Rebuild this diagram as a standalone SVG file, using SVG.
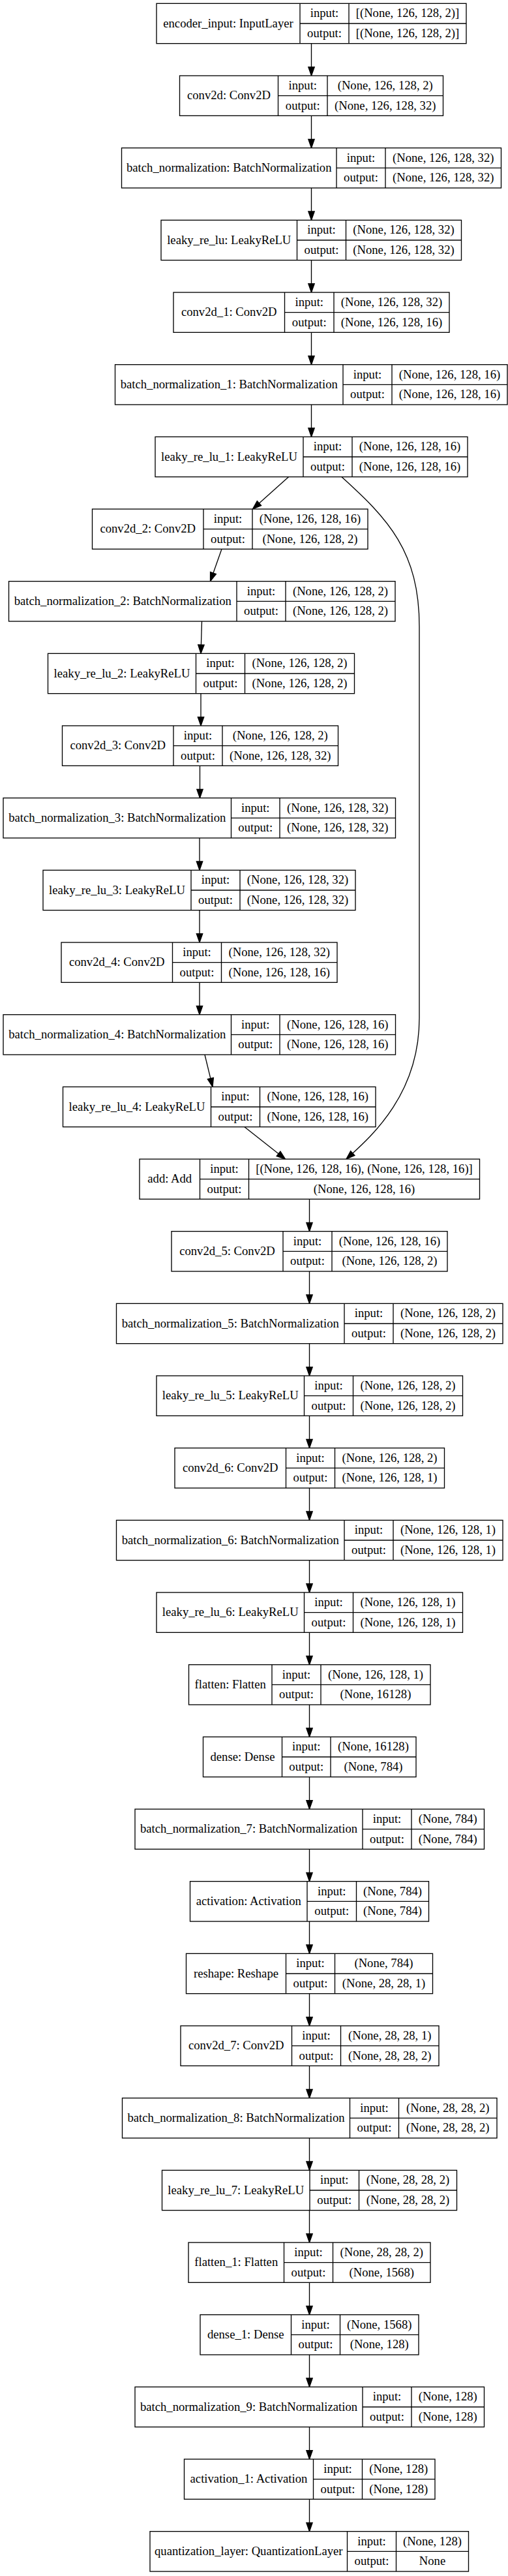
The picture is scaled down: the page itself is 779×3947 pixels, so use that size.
<svg xmlns="http://www.w3.org/2000/svg" width="779" height="3947" viewBox="0 0 779 3947">
<style>
.n rect{fill:#fff;stroke:#000;stroke-width:1.33}
.n line{stroke:#000;stroke-width:1.33}
text{font-family:"Liberation Serif",Times,serif;font-size:18.67px;text-anchor:middle;fill:#000}
.e path{fill:none;stroke:#000;stroke-width:1.33;marker-end:url(#arr)}
</style>
<defs>
<marker id="arr" markerUnits="userSpaceOnUse" markerWidth="14" markerHeight="10" refX="13.33" refY="4.67" orient="auto" viewBox="0 0 14 10" overflow="visible">
<path d="M0,0 L13.33,4.67 L0,9.33 z" fill="#000" stroke="#000" stroke-width="1.33"/>
</marker>
</defs>
<rect x="0" y="0" width="779" height="3947" fill="#fff"/>
<g id="edges" class="e">
<path d="M477.5,66.67 L477.5,116"/>
<path d="M477.5,177.33 L477.5,226.67"/>
<path d="M477.5,288 L477.5,337.33"/>
<path d="M477.5,398.67 L477.5,448"/>
<path d="M477.5,509.33 L477.5,558.67"/>
<path d="M477.5,620 L477.5,669.33"/>
<path d="M442.5,730.67 L387.5,780"/>
<path d="M524,730.67 C595,795 643,845 643,960 L643,1560 C643,1680 565,1745 531,1776"/>
<path d="M340,841.33 L322.5,890.67"/>
<path d="M309.5,952 L308,1001.33"/>
<path d="M308,1062.67 L308,1112"/>
<path d="M306.5,1173.33 L306.5,1222.67"/>
<path d="M306,1284 L306,1333.33"/>
<path d="M306,1394.67 L306,1444"/>
<path d="M306,1505.33 L306,1554.67"/>
<path d="M314,1616 L326,1665.33"/>
<path d="M375,1726.67 L437.5,1776"/>
<path d="M474.5,1837.33 L474.5,1886.67"/>
<path d="M474.5,1948 L474.5,1997.33"/>
<path d="M474.5,2058.67 L474.5,2108"/>
<path d="M474.5,2169.33 L474.5,2218.67"/>
<path d="M474.5,2280 L474.5,2329.33"/>
<path d="M474.5,2390.67 L474.5,2440"/>
<path d="M474.5,2501.33 L474.5,2550.67"/>
<path d="M474.5,2612 L474.5,2661.33"/>
<path d="M474.5,2722.67 L474.5,2772"/>
<path d="M474.5,2833.33 L474.5,2882.67"/>
<path d="M474.5,2944 L474.5,2993.33"/>
<path d="M474.5,3054.67 L474.5,3104"/>
<path d="M474.5,3165.33 L474.5,3214.67"/>
<path d="M474.5,3276 L474.5,3325.33"/>
<path d="M474.5,3386.67 L474.5,3436"/>
<path d="M474.5,3497.33 L474.5,3546.67"/>
<path d="M474.5,3608 L474.5,3657.33"/>
<path d="M474.5,3718.67 L474.5,3768"/>
<path d="M474.5,3829.33 L474.5,3878.67"/>
</g>

<g id="encoder_input" class="n" transform="translate(0,5.33)">
<rect x="240" y="0" width="475" height="61.33"/>
<line x1="460" y1="0" x2="460" y2="61.33"/><line x1="535" y1="0" x2="535" y2="61.33"/><line x1="460" y1="30.67" x2="715" y2="30.67"/>
<text x="350" y="36.3">encoder_input: InputLayer</text>
<text x="497.5" y="21">input:</text><text x="497.5" y="51.7">output:</text>
<text x="625" y="21">[(None, 126, 128, 2)]</text><text x="625" y="51.7">[(None, 126, 128, 2)]</text>
</g>

<g id="conv2d" class="n" transform="translate(0,116)">
<rect x="275.5" y="0" width="404" height="61.33"/>
<line x1="426.5" y1="0" x2="426.5" y2="61.33"/><line x1="502" y1="0" x2="502" y2="61.33"/><line x1="426.5" y1="30.67" x2="679.5" y2="30.67"/>
<text x="351" y="36.3">conv2d: Conv2D</text>
<text x="464.25" y="21">input:</text><text x="464.25" y="51.7">output:</text>
<text x="590.75" y="21">(None, 126, 128, 2)</text><text x="590.75" y="51.7">(None, 126, 128, 32)</text>
</g>

<g id="batch_normalization" class="n" transform="translate(0,226.67)">
<rect x="186.5" y="0" width="582" height="61.33"/>
<line x1="516" y1="0" x2="516" y2="61.33"/><line x1="591" y1="0" x2="591" y2="61.33"/><line x1="516" y1="30.67" x2="768.5" y2="30.67"/>
<text x="351.25" y="36.3">batch_normalization: BatchNormalization</text>
<text x="553.5" y="21">input:</text><text x="553.5" y="51.7">output:</text>
<text x="679.75" y="21">(None, 126, 128, 32)</text><text x="679.75" y="51.7">(None, 126, 128, 32)</text>
</g>

<g id="leaky_re_lu" class="n" transform="translate(0,337.33)">
<rect x="247" y="0" width="460.5" height="61.33"/>
<line x1="455.5" y1="0" x2="455.5" y2="61.33"/><line x1="530.5" y1="0" x2="530.5" y2="61.33"/><line x1="455.5" y1="30.67" x2="707.5" y2="30.67"/>
<text x="351.25" y="36.3">leaky_re_lu: LeakyReLU</text>
<text x="493" y="21">input:</text><text x="493" y="51.7">output:</text>
<text x="619" y="21">(None, 126, 128, 32)</text><text x="619" y="51.7">(None, 126, 128, 32)</text>
</g>

<g id="conv2d_1" class="n" transform="translate(0,448)">
<rect x="266" y="0" width="423" height="61.33"/>
<line x1="436.5" y1="0" x2="436.5" y2="61.33"/><line x1="512" y1="0" x2="512" y2="61.33"/><line x1="436.5" y1="30.67" x2="689" y2="30.67"/>
<text x="351.25" y="36.3">conv2d_1: Conv2D</text>
<text x="474.25" y="21">input:</text><text x="474.25" y="51.7">output:</text>
<text x="600.5" y="21">(None, 126, 128, 32)</text><text x="600.5" y="51.7">(None, 126, 128, 16)</text>
</g>

<g id="batch_normalization_1" class="n" transform="translate(0,558.67)">
<rect x="176.5" y="0" width="601.5" height="61.33"/>
<line x1="526" y1="0" x2="526" y2="61.33"/><line x1="601" y1="0" x2="601" y2="61.33"/><line x1="526" y1="30.67" x2="778" y2="30.67"/>
<text x="351.25" y="36.3">batch_normalization_1: BatchNormalization</text>
<text x="563.5" y="21">input:</text><text x="563.5" y="51.7">output:</text>
<text x="689.5" y="21">(None, 126, 128, 16)</text><text x="689.5" y="51.7">(None, 126, 128, 16)</text>
</g>

<g id="leaky_re_lu_1" class="n" transform="translate(0,669.33)">
<rect x="238" y="0" width="479" height="61.33"/>
<line x1="465" y1="0" x2="465" y2="61.33"/><line x1="540" y1="0" x2="540" y2="61.33"/><line x1="465" y1="30.67" x2="717" y2="30.67"/>
<text x="351.5" y="36.3">leaky_re_lu_1: LeakyReLU</text>
<text x="502.5" y="21">input:</text><text x="502.5" y="51.7">output:</text>
<text x="628.5" y="21">(None, 126, 128, 16)</text><text x="628.5" y="51.7">(None, 126, 128, 16)</text>
</g>

<g id="conv2d_2" class="n" transform="translate(0,780)">
<rect x="141.5" y="0" width="422.5" height="61.33"/>
<line x1="312" y1="0" x2="312" y2="61.33"/><line x1="387" y1="0" x2="387" y2="61.33"/><line x1="312" y1="30.67" x2="564" y2="30.67"/>
<text x="226.75" y="36.3">conv2d_2: Conv2D</text>
<text x="349.5" y="21">input:</text><text x="349.5" y="51.7">output:</text>
<text x="475.5" y="21">(None, 126, 128, 16)</text><text x="475.5" y="51.7">(None, 126, 128, 2)</text>
</g>

<g id="batch_normalization_2" class="n" transform="translate(0,890.67)">
<rect x="13.5" y="0" width="592.5" height="61.33"/>
<line x1="363" y1="0" x2="363" y2="61.33"/><line x1="438" y1="0" x2="438" y2="61.33"/><line x1="363" y1="30.67" x2="606" y2="30.67"/>
<text x="188.25" y="36.3">batch_normalization_2: BatchNormalization</text>
<text x="400.5" y="21">input:</text><text x="400.5" y="51.7">output:</text>
<text x="522" y="21">(None, 126, 128, 2)</text><text x="522" y="51.7">(None, 126, 128, 2)</text>
</g>

<g id="leaky_re_lu_2" class="n" transform="translate(0,1001.33)">
<rect x="73.5" y="0" width="470" height="61.33"/>
<line x1="300.5" y1="0" x2="300.5" y2="61.33"/><line x1="375.5" y1="0" x2="375.5" y2="61.33"/><line x1="300.5" y1="30.67" x2="543.5" y2="30.67"/>
<text x="187" y="36.3">leaky_re_lu_2: LeakyReLU</text>
<text x="338" y="21">input:</text><text x="338" y="51.7">output:</text>
<text x="459.5" y="21">(None, 126, 128, 2)</text><text x="459.5" y="51.7">(None, 126, 128, 2)</text>
</g>

<g id="conv2d_3" class="n" transform="translate(0,1112)">
<rect x="95.5" y="0" width="423" height="61.33"/>
<line x1="266" y1="0" x2="266" y2="61.33"/><line x1="341" y1="0" x2="341" y2="61.33"/><line x1="266" y1="30.67" x2="518.5" y2="30.67"/>
<text x="180.75" y="36.3">conv2d_3: Conv2D</text>
<text x="303.5" y="21">input:</text><text x="303.5" y="51.7">output:</text>
<text x="429.75" y="21">(None, 126, 128, 2)</text><text x="429.75" y="51.7">(None, 126, 128, 32)</text>
</g>

<g id="batch_normalization_3" class="n" transform="translate(0,1222.67)">
<rect x="5" y="0" width="601.5" height="61.33"/>
<line x1="354.5" y1="0" x2="354.5" y2="61.33"/><line x1="429" y1="0" x2="429" y2="61.33"/><line x1="354.5" y1="30.67" x2="606.5" y2="30.67"/>
<text x="179.75" y="36.3">batch_normalization_3: BatchNormalization</text>
<text x="391.75" y="21">input:</text><text x="391.75" y="51.7">output:</text>
<text x="517.75" y="21">(None, 126, 128, 32)</text><text x="517.75" y="51.7">(None, 126, 128, 32)</text>
</g>

<g id="leaky_re_lu_3" class="n" transform="translate(0,1333.33)">
<rect x="66" y="0" width="479" height="61.33"/>
<line x1="293" y1="0" x2="293" y2="61.33"/><line x1="368" y1="0" x2="368" y2="61.33"/><line x1="293" y1="30.67" x2="545" y2="30.67"/>
<text x="179.5" y="36.3">leaky_re_lu_3: LeakyReLU</text>
<text x="330.5" y="21">input:</text><text x="330.5" y="51.7">output:</text>
<text x="456.5" y="21">(None, 126, 128, 32)</text><text x="456.5" y="51.7">(None, 126, 128, 32)</text>
</g>

<g id="conv2d_4" class="n" transform="translate(0,1444)">
<rect x="94" y="0" width="423" height="61.33"/>
<line x1="264.5" y1="0" x2="264.5" y2="61.33"/><line x1="339.5" y1="0" x2="339.5" y2="61.33"/><line x1="264.5" y1="30.67" x2="517" y2="30.67"/>
<text x="179.25" y="36.3">conv2d_4: Conv2D</text>
<text x="302" y="21">input:</text><text x="302" y="51.7">output:</text>
<text x="428.25" y="21">(None, 126, 128, 32)</text><text x="428.25" y="51.7">(None, 126, 128, 16)</text>
</g>

<g id="batch_normalization_4" class="n" transform="translate(0,1554.67)">
<rect x="5" y="0" width="601.5" height="61.33"/>
<line x1="354.5" y1="0" x2="354.5" y2="61.33"/><line x1="429" y1="0" x2="429" y2="61.33"/><line x1="354.5" y1="30.67" x2="606.5" y2="30.67"/>
<text x="179.75" y="36.3">batch_normalization_4: BatchNormalization</text>
<text x="391.75" y="21">input:</text><text x="391.75" y="51.7">output:</text>
<text x="517.75" y="21">(None, 126, 128, 16)</text><text x="517.75" y="51.7">(None, 126, 128, 16)</text>
</g>

<g id="leaky_re_lu_4" class="n" transform="translate(0,1665.33)">
<rect x="96.5" y="0" width="479.5" height="61.33"/>
<line x1="323.5" y1="0" x2="323.5" y2="61.33"/><line x1="398.5" y1="0" x2="398.5" y2="61.33"/><line x1="323.5" y1="30.67" x2="576" y2="30.67"/>
<text x="210" y="36.3">leaky_re_lu_4: LeakyReLU</text>
<text x="361" y="21">input:</text><text x="361" y="51.7">output:</text>
<text x="487.25" y="21">(None, 126, 128, 16)</text><text x="487.25" y="51.7">(None, 126, 128, 16)</text>
</g>

<g id="add" class="n" transform="translate(0,1776)">
<rect x="214" y="0" width="521.5" height="61.33"/>
<line x1="306.5" y1="0" x2="306.5" y2="61.33"/><line x1="381.5" y1="0" x2="381.5" y2="61.33"/><line x1="306.5" y1="30.67" x2="735.5" y2="30.67"/>
<text x="260.25" y="36.3">add: Add</text>
<text x="344" y="21">input:</text><text x="344" y="51.7">output:</text>
<text x="558.5" y="21">[(None, 126, 128, 16), (None, 126, 128, 16)]</text><text x="558.5" y="51.7">(None, 126, 128, 16)</text>
</g>

<g id="conv2d_5" class="n" transform="translate(0,1886.67)">
<rect x="263" y="0" width="423" height="61.33"/>
<line x1="434" y1="0" x2="434" y2="61.33"/><line x1="509" y1="0" x2="509" y2="61.33"/><line x1="434" y1="30.67" x2="686" y2="30.67"/>
<text x="348.5" y="36.3">conv2d_5: Conv2D</text>
<text x="471.5" y="21">input:</text><text x="471.5" y="51.7">output:</text>
<text x="597.5" y="21">(None, 126, 128, 16)</text><text x="597.5" y="51.7">(None, 126, 128, 2)</text>
</g>

<g id="batch_normalization_5" class="n" transform="translate(0,1997.33)">
<rect x="178.5" y="0" width="592.5" height="61.33"/>
<line x1="528" y1="0" x2="528" y2="61.33"/><line x1="603" y1="0" x2="603" y2="61.33"/><line x1="528" y1="30.67" x2="771" y2="30.67"/>
<text x="353.25" y="36.3">batch_normalization_5: BatchNormalization</text>
<text x="565.5" y="21">input:</text><text x="565.5" y="51.7">output:</text>
<text x="687" y="21">(None, 126, 128, 2)</text><text x="687" y="51.7">(None, 126, 128, 2)</text>
</g>

<g id="leaky_re_lu_5" class="n" transform="translate(0,2108)">
<rect x="240" y="0" width="469.5" height="61.33"/>
<line x1="466.5" y1="0" x2="466.5" y2="61.33"/><line x1="541.5" y1="0" x2="541.5" y2="61.33"/><line x1="466.5" y1="30.67" x2="709.5" y2="30.67"/>
<text x="353.25" y="36.3">leaky_re_lu_5: LeakyReLU</text>
<text x="504" y="21">input:</text><text x="504" y="51.7">output:</text>
<text x="625.5" y="21">(None, 126, 128, 2)</text><text x="625.5" y="51.7">(None, 126, 128, 2)</text>
</g>

<g id="conv2d_6" class="n" transform="translate(0,2218.67)">
<rect x="268" y="0" width="413.5" height="61.33"/>
<line x1="438.5" y1="0" x2="438.5" y2="61.33"/><line x1="513.5" y1="0" x2="513.5" y2="61.33"/><line x1="438.5" y1="30.67" x2="681.5" y2="30.67"/>
<text x="353.25" y="36.3">conv2d_6: Conv2D</text>
<text x="476" y="21">input:</text><text x="476" y="51.7">output:</text>
<text x="597.5" y="21">(None, 126, 128, 2)</text><text x="597.5" y="51.7">(None, 126, 128, 1)</text>
</g>

<g id="batch_normalization_6" class="n" transform="translate(0,2329.33)">
<rect x="178.5" y="0" width="592.5" height="61.33"/>
<line x1="528" y1="0" x2="528" y2="61.33"/><line x1="603" y1="0" x2="603" y2="61.33"/><line x1="528" y1="30.67" x2="771" y2="30.67"/>
<text x="353.25" y="36.3">batch_normalization_6: BatchNormalization</text>
<text x="565.5" y="21">input:</text><text x="565.5" y="51.7">output:</text>
<text x="687" y="21">(None, 126, 128, 1)</text><text x="687" y="51.7">(None, 126, 128, 1)</text>
</g>

<g id="leaky_re_lu_6" class="n" transform="translate(0,2440)">
<rect x="240" y="0" width="469.5" height="61.33"/>
<line x1="466.5" y1="0" x2="466.5" y2="61.33"/><line x1="541.5" y1="0" x2="541.5" y2="61.33"/><line x1="466.5" y1="30.67" x2="709.5" y2="30.67"/>
<text x="353.25" y="36.3">leaky_re_lu_6: LeakyReLU</text>
<text x="504" y="21">input:</text><text x="504" y="51.7">output:</text>
<text x="625.5" y="21">(None, 126, 128, 1)</text><text x="625.5" y="51.7">(None, 126, 128, 1)</text>
</g>

<g id="flatten" class="n" transform="translate(0,2550.67)">
<rect x="289.5" y="0" width="370.5" height="61.33"/>
<line x1="417" y1="0" x2="417" y2="61.33"/><line x1="492" y1="0" x2="492" y2="61.33"/><line x1="417" y1="30.67" x2="660" y2="30.67"/>
<text x="353.25" y="36.3">flatten: Flatten</text>
<text x="454.5" y="21">input:</text><text x="454.5" y="51.7">output:</text>
<text x="576" y="21">(None, 126, 128, 1)</text><text x="576" y="51.7">(None, 16128)</text>
</g>

<g id="dense" class="n" transform="translate(0,2661.33)">
<rect x="311.5" y="0" width="326.5" height="61.33"/>
<line x1="432.5" y1="0" x2="432.5" y2="61.33"/><line x1="507" y1="0" x2="507" y2="61.33"/><line x1="432.5" y1="30.67" x2="638" y2="30.67"/>
<text x="372" y="36.3">dense: Dense</text>
<text x="469.75" y="21">input:</text><text x="469.75" y="51.7">output:</text>
<text x="572.5" y="21">(None, 16128)</text><text x="572.5" y="51.7">(None, 784)</text>
</g>

<g id="batch_normalization_7" class="n" transform="translate(0,2772)">
<rect x="207" y="0" width="535.5" height="61.33"/>
<line x1="556" y1="0" x2="556" y2="61.33"/><line x1="631" y1="0" x2="631" y2="61.33"/><line x1="556" y1="30.67" x2="742.5" y2="30.67"/>
<text x="381.5" y="36.3">batch_normalization_7: BatchNormalization</text>
<text x="593.5" y="21">input:</text><text x="593.5" y="51.7">output:</text>
<text x="686.75" y="21">(None, 784)</text><text x="686.75" y="51.7">(None, 784)</text>
</g>

<g id="activation" class="n" transform="translate(0,2882.67)">
<rect x="291.5" y="0" width="366" height="61.33"/>
<line x1="471" y1="0" x2="471" y2="61.33"/><line x1="546.5" y1="0" x2="546.5" y2="61.33"/><line x1="471" y1="30.67" x2="657.5" y2="30.67"/>
<text x="381.25" y="36.3">activation: Activation</text>
<text x="508.75" y="21">input:</text><text x="508.75" y="51.7">output:</text>
<text x="602" y="21">(None, 784)</text><text x="602" y="51.7">(None, 784)</text>
</g>

<g id="reshape" class="n" transform="translate(0,2993.33)">
<rect x="285.5" y="0" width="378" height="61.33"/>
<line x1="438.5" y1="0" x2="438.5" y2="61.33"/><line x1="513.5" y1="0" x2="513.5" y2="61.33"/><line x1="438.5" y1="30.67" x2="663.5" y2="30.67"/>
<text x="362" y="36.3">reshape: Reshape</text>
<text x="476" y="21">input:</text><text x="476" y="51.7">output:</text>
<text x="588.5" y="21">(None, 784)</text><text x="588.5" y="51.7">(None, 28, 28, 1)</text>
</g>

<g id="conv2d_7" class="n" transform="translate(0,3104)">
<rect x="277" y="0" width="396" height="61.33"/>
<line x1="447.5" y1="0" x2="447.5" y2="61.33"/><line x1="522.5" y1="0" x2="522.5" y2="61.33"/><line x1="447.5" y1="30.67" x2="673" y2="30.67"/>
<text x="362.25" y="36.3">conv2d_7: Conv2D</text>
<text x="485" y="21">input:</text><text x="485" y="51.7">output:</text>
<text x="597.75" y="21">(None, 28, 28, 1)</text><text x="597.75" y="51.7">(None, 28, 28, 2)</text>
</g>

<g id="batch_normalization_8" class="n" transform="translate(0,3214.67)">
<rect x="187.5" y="0" width="574.5" height="61.33"/>
<line x1="536.5" y1="0" x2="536.5" y2="61.33"/><line x1="611.5" y1="0" x2="611.5" y2="61.33"/><line x1="536.5" y1="30.67" x2="762" y2="30.67"/>
<text x="362" y="36.3">batch_normalization_8: BatchNormalization</text>
<text x="574" y="21">input:</text><text x="574" y="51.7">output:</text>
<text x="686.75" y="21">(None, 28, 28, 2)</text><text x="686.75" y="51.7">(None, 28, 28, 2)</text>
</g>

<g id="leaky_re_lu_7" class="n" transform="translate(0,3325.33)">
<rect x="248.5" y="0" width="452" height="61.33"/>
<line x1="475" y1="0" x2="475" y2="61.33"/><line x1="550.5" y1="0" x2="550.5" y2="61.33"/><line x1="475" y1="30.67" x2="700.5" y2="30.67"/>
<text x="361.75" y="36.3">leaky_re_lu_7: LeakyReLU</text>
<text x="512.75" y="21">input:</text><text x="512.75" y="51.7">output:</text>
<text x="625.5" y="21">(None, 28, 28, 2)</text><text x="625.5" y="51.7">(None, 28, 28, 2)</text>
</g>

<g id="flatten_1" class="n" transform="translate(0,3436)">
<rect x="289" y="0" width="371" height="61.33"/>
<line x1="435.5" y1="0" x2="435.5" y2="61.33"/><line x1="510.5" y1="0" x2="510.5" y2="61.33"/><line x1="435.5" y1="30.67" x2="660" y2="30.67"/>
<text x="362.25" y="36.3">flatten_1: Flatten</text>
<text x="473" y="21">input:</text><text x="473" y="51.7">output:</text>
<text x="585.25" y="21">(None, 28, 28, 2)</text><text x="585.25" y="51.7">(None, 1568)</text>
</g>

<g id="dense_1" class="n" transform="translate(0,3546.67)">
<rect x="307" y="0" width="335" height="61.33"/>
<line x1="446.5" y1="0" x2="446.5" y2="61.33"/><line x1="521.5" y1="0" x2="521.5" y2="61.33"/><line x1="446.5" y1="30.67" x2="642" y2="30.67"/>
<text x="376.75" y="36.3">dense_1: Dense</text>
<text x="484" y="21">input:</text><text x="484" y="51.7">output:</text>
<text x="581.75" y="21">(None, 1568)</text><text x="581.75" y="51.7">(None, 128)</text>
</g>

<g id="batch_normalization_9" class="n" transform="translate(0,3657.33)">
<rect x="207" y="0" width="535.5" height="61.33"/>
<line x1="556" y1="0" x2="556" y2="61.33"/><line x1="631" y1="0" x2="631" y2="61.33"/><line x1="556" y1="30.67" x2="742.5" y2="30.67"/>
<text x="381.5" y="36.3">batch_normalization_9: BatchNormalization</text>
<text x="593.5" y="21">input:</text><text x="593.5" y="51.7">output:</text>
<text x="686.75" y="21">(None, 128)</text><text x="686.75" y="51.7">(None, 128)</text>
</g>

<g id="activation_1" class="n" transform="translate(0,3768)">
<rect x="282.5" y="0" width="384.5" height="61.33"/>
<line x1="480.5" y1="0" x2="480.5" y2="61.33"/><line x1="555.5" y1="0" x2="555.5" y2="61.33"/><line x1="480.5" y1="30.67" x2="667" y2="30.67"/>
<text x="381.5" y="36.3">activation_1: Activation</text>
<text x="518" y="21">input:</text><text x="518" y="51.7">output:</text>
<text x="611.25" y="21">(None, 128)</text><text x="611.25" y="51.7">(None, 128)</text>
</g>

<g id="quantization_layer" class="n" transform="translate(0,3878.67)">
<rect x="230" y="0" width="488.5" height="61.33"/>
<line x1="532.5" y1="0" x2="532.5" y2="61.33"/><line x1="607.5" y1="0" x2="607.5" y2="61.33"/><line x1="532.5" y1="30.67" x2="718.5" y2="30.67"/>
<text x="381.25" y="36.3">quantization_layer: QuantizationLayer</text>
<text x="570" y="21">input:</text><text x="570" y="51.7">output:</text>
<text x="663" y="21">(None, 128)</text><text x="663" y="51.7">None</text>
</g>
</svg>
